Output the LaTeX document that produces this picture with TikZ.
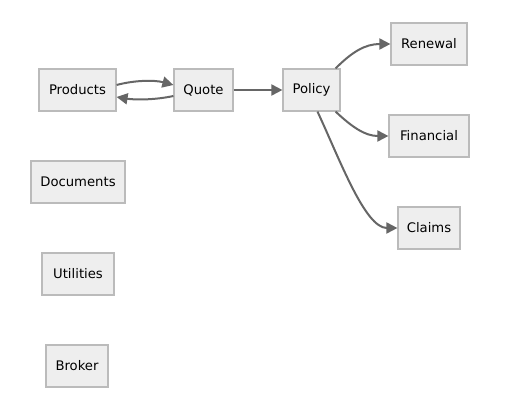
\documentclass[tikz,border=0pt]{standalone}
\usepackage{fontspec}
\setmainfont{DejaVu Sans}
\usetikzlibrary{arrows.meta}
\definecolor{boxfill}{HTML}{EEEEEE}
\definecolor{boxline}{HTML}{BBBBBB}
\definecolor{edge}{HTML}{666666}
\begin{document}
\begin{tikzpicture}[x=1pt,y=-1pt,
  box/.style={draw=boxline,fill=boxfill,line width=1.2pt,minimum height=42pt,inner xsep=4pt,font=\fontsize{13.2}{15}\selectfont,text=black},
  conn/.style={draw=edge,line width=2pt,-{Triangle[length=11pt,width=11pt]}}]
\useasboundingbox (0,0) rectangle (509,415);
\node[box,minimum width=77pt] (products) at (77.5,90) {Products};
\node[box,minimum width=59pt] (quote) at (203.5,90) {Quote};
\node[box,minimum width=57pt] (policy) at (311.5,90) {Policy};
\node[box,minimum width=76pt] (renewal) at (429,44) {Renewal};
\node[box,minimum width=80pt] (financial) at (429,136) {Financial};
\node[box,minimum width=62pt] (claims) at (429,228) {Claims};
\node[box,minimum width=94pt] (documents) at (78,182) {Documents};
\node[box,minimum width=72pt] (utilities) at (78,274) {Utilities};
\node[box,minimum width=62pt] (broker) at (77,366) {Broker};
\draw[conn] (products.east |- 0,85) .. controls (135,80) and (155,80) .. (quote.west |- 0,85);
\draw[conn] (quote.west |- 0,96) .. controls (155,100) and (135,100) .. (products.east |- 0,97);
\draw[conn] (quote.east) -- (policy.west);
\draw[conn] (policy.north east) ++(-5,0) coordinate (p1) .. controls (352,52) and (365,44) .. (renewal.west);
\draw[conn] (policy.south east) ++(-5,0) coordinate (p2) .. controls (352,127) and (365,136) .. (financial.west);
\draw[conn] (policy.south) ++(6,0) coordinate (p3) .. controls (340,160) and (365,228) .. (claims.west);
\end{tikzpicture}
\end{document}
